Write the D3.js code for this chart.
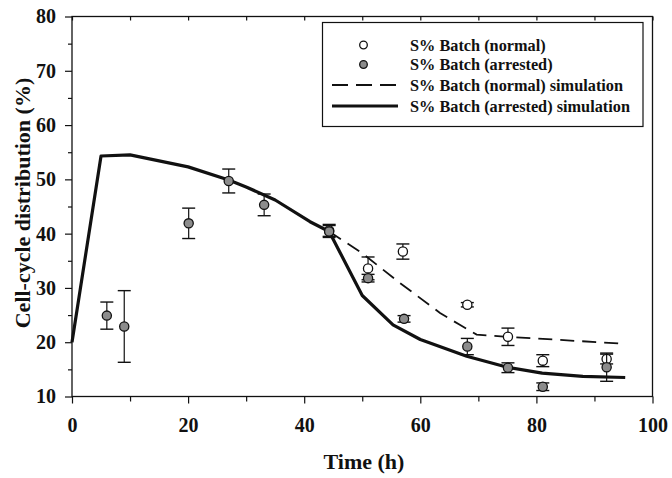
<!DOCTYPE html>
<html>
<head>
<meta charset="utf-8">
<script src="https://cdn.jsdelivr.net/npm/d3@7"></script>
<style>
  html, body { margin: 0; padding: 0; background: #fff; }
  svg { display: block; }
  text { font-family: "Liberation Serif", "Times New Roman", serif; font-weight: bold; fill: #111; }
</style>
</head>
<body>
<script>
// ---- data ----
const arrestedSimT = [0, 5, 10, 20, 27, 30, 35, 41, 44.3, 50, 55.3, 60, 68, 75, 81, 88, 95.3];
const arrestedSimV = [20, 54.3, 54.5, 52.3, 49.9, 48.6, 46.2, 42.2, 40.4, 28.6, 23.2, 20.5, 17.4, 15.4, 14.3, 13.7, 13.5];

const normalSimT = [44.3, 50, 56.5, 63.4, 66.8, 69.7, 75, 95.3];
const normalSimV = [40.4, 36.4, 30.9, 25.4, 23.2, 21.4, 21.0, 19.7];

const arrestedT   = [6.0, 9.0, 20.1, 27.0, 33.1, 44.3, 51.0, 57.2, 68.1, 75.1, 81.1, 92.1];
const arrestedV   = [24.9, 22.9, 41.9, 49.7, 45.3, 40.4, 31.8, 24.3, 19.2, 15.3, 11.8, 15.4];
const arrestedErr = [2.5, 6.6, 2.8, 2.2, 2.0, 1.1, 0.7, 0.6, 1.5, 0.9, 0.7, 2.6];

const normalT   = [44.3, 51.0, 57.0, 68.1, 75.1, 81.1, 92.1];
const normalV   = [40.6, 33.6, 36.7, 26.9, 21.0, 16.6, 16.9];
const normalErr = [1.1, 2.1, 1.4, 0.4, 1.6, 1.1, 0.9];

const xMajor = [0, 20, 40, 60, 80, 100];
const xMinor = [10, 30, 50, 70, 90];
const yMajor = [10, 20, 30, 40, 50, 60, 70, 80];
const yMinor = [15, 25, 35, 45, 55, 65, 75];

const legendLabels = [
  "S% Batch (normal)",
  "S% Batch (arrested)",
  "S% Batch (normal) simulation",
  "S% Batch (arrested) simulation"
];

// ---- layout ----
const W = 672, H = 478;
const L = 72, R = 652.5, T = 16.5, B = 396.5;
const gray = "#8c8c8c";
const ink = "#111";

const svg = d3.select("body").append("svg").attr("width", W).attr("height", H);

const x = d3.scaleLinear().domain([0, 100]).range([L, R]);
const y = d3.scaleLinear().domain([10, 80]).range([B, T]);

function styleAxis(g) {
  g.select(".domain").remove();
  g.selectAll(".tick line").attr("stroke", ink).attr("stroke-width", 1.2);
  g.selectAll(".tick text").attr("font-size", 20).attr("font-family", "Liberation Serif")
    .attr("font-weight", "bold").attr("fill", ink);
}

// frame
svg.append("rect").attr("x", L).attr("y", T).attr("width", R - L).attr("height", B - T)
  .attr("fill", "none").attr("stroke", ink).attr("stroke-width", 1.3);

// x axis (bottom)
svg.append("g").attr("transform", `translate(0,${B})`)
  .call(d3.axisBottom(x).tickValues(xMajor).tickSize(7).tickPadding(14))
  .call(styleAxis);
svg.append("g").attr("transform", `translate(0,${B})`)
  .call(d3.axisBottom(x).tickValues(xMinor).tickSize(5).tickFormat(""))
  .call(styleAxis);

// top ticks (inward)
svg.append("g").attr("transform", `translate(0,${T})`)
  .call(d3.axisBottom(x).tickValues(xMajor.concat(xMinor)).tickSize(4).tickFormat(""))
  .call(styleAxis);

// y axis (left)
svg.append("g").attr("transform", `translate(${L},0)`)
  .call(d3.axisLeft(y).tickValues(yMajor).tickSize(7).tickPadding(9))
  .call(styleAxis);
svg.append("g").attr("transform", `translate(${L},0)`)
  .call(d3.axisLeft(y).tickValues(yMinor).tickSize(4).tickFormat(""))
  .call(styleAxis);

// axis titles
svg.append("text").attr("x", 364).attr("y", 469).attr("text-anchor", "middle")
  .attr("font-size", 22).text("Time (h)");
svg.append("text").attr("transform", "translate(30,203) rotate(-90)").attr("text-anchor", "middle")
  .attr("font-size", 22).text("Cell-cycle distribution (%)");

// simulation lines
const line = d3.line().x(d => x(d[0])).y(d => y(d[1]));
const normalSim = normalSimT.map((t, i) => [t, normalSimV[i]]);
const arrestedSim = arrestedSimT.map((t, i) => [t, arrestedSimV[i]]);

svg.append("path").datum(normalSim).attr("d", line)
  .attr("fill", "none").attr("stroke", ink).attr("stroke-width", 1.8)
  .attr("stroke-dasharray", "14,8");
svg.append("path").datum(arrestedSim).attr("d", line)
  .attr("fill", "none").attr("stroke", ink).attr("stroke-width", 3.2)
  .attr("stroke-linejoin", "round");

// error bars + points
function drawSeries(ts, vs, es, fill) {
  const g = svg.append("g");
  const data = ts.map((t, i) => ({ t, v: vs[i], e: es[i] }));
  const cap = 6.5;
  data.forEach(d => {
    const cx = x(d.t);
    g.append("line").attr("x1", cx).attr("x2", cx).attr("y1", y(d.v + d.e)).attr("y2", y(d.v - d.e))
      .attr("stroke", ink).attr("stroke-width", 1.2);
    [d.v + d.e, d.v - d.e].forEach(v => {
      g.append("line").attr("x1", cx - cap).attr("x2", cx + cap).attr("y1", y(v)).attr("y2", y(v))
        .attr("stroke", ink).attr("stroke-width", 1.4);
    });
  });
  g.selectAll("circle").data(data).join("circle")
    .attr("cx", d => x(d.t)).attr("cy", d => y(d.v)).attr("r", 4.6)
    .attr("fill", fill).attr("stroke", ink).attr("stroke-width", 1.3);
}
drawSeries(normalT, normalV, normalErr, "#fff");
drawSeries(arrestedT, arrestedV, arrestedErr, gray);

// legend
const lg = svg.append("g");
lg.append("rect").attr("x", 322.5).attr("y", 22.5).attr("width", 320.5).attr("height", 104)
  .attr("fill", "#fff").attr("stroke", ink).attr("stroke-width", 1.2);
const rowsY = [45, 64.5, 85, 106];
lg.append("circle").attr("cx", 363.5).attr("cy", rowsY[0]).attr("r", 3.8)
  .attr("fill", "#fff").attr("stroke", ink).attr("stroke-width", 1.3);
lg.append("circle").attr("cx", 363.5).attr("cy", rowsY[1]).attr("r", 3.8)
  .attr("fill", gray).attr("stroke", ink).attr("stroke-width", 1.3);
lg.append("line").attr("x1", 332).attr("x2", 398).attr("y1", rowsY[2]).attr("y2", rowsY[2])
  .attr("stroke", ink).attr("stroke-width", 1.8).attr("stroke-dasharray", "16,8");
lg.append("line").attr("x1", 332).attr("x2", 398).attr("y1", rowsY[3]).attr("y2", rowsY[3])
  .attr("stroke", ink).attr("stroke-width", 3.2);
legendLabels.forEach((s, i) => {
  lg.append("text").attr("x", 410).attr("y", rowsY[i] + 5.5).attr("font-size", 16.3).text(s);
});
</script>
</body>
</html>
